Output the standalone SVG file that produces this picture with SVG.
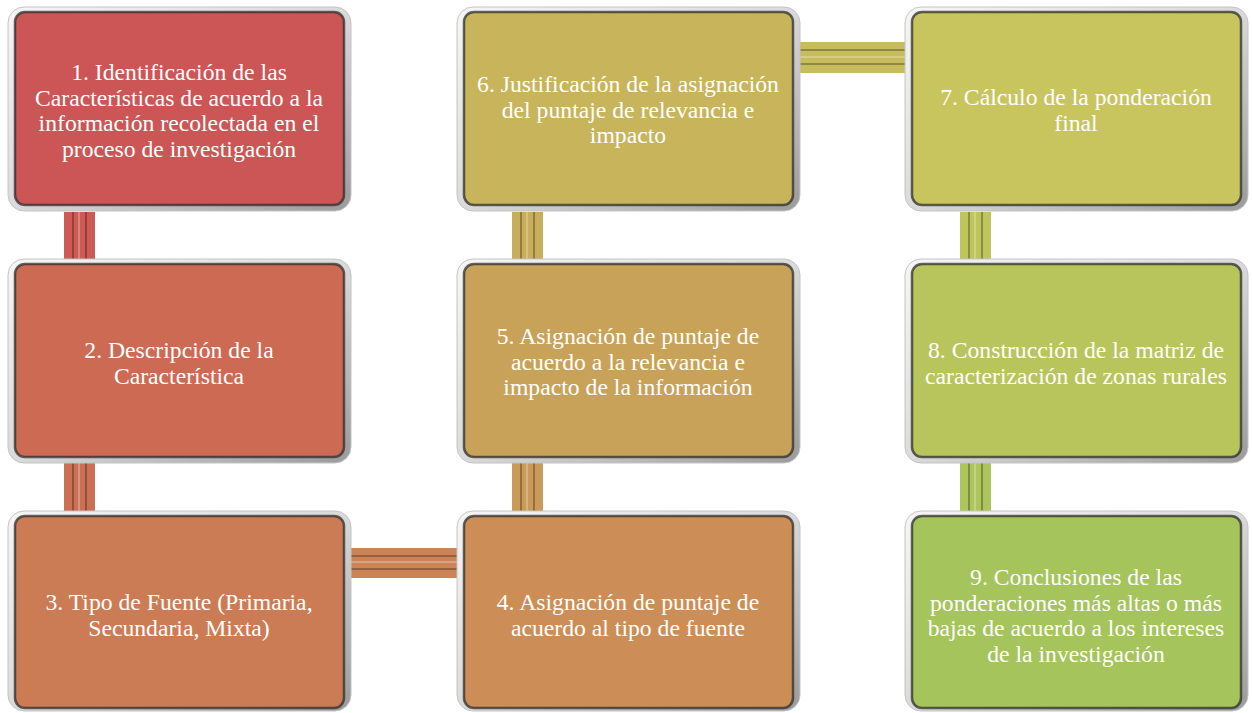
<svg xmlns="http://www.w3.org/2000/svg" width="1252" height="713" viewBox="0 0 1252 713">
<defs>
<linearGradient id="frame" x1="0" y1="0" x2="1" y2="1">
<stop offset="0" stop-color="#f6f6f6"/>
<stop offset="0.5" stop-color="#dadada"/>
<stop offset="1" stop-color="#9a9a9a"/>
</linearGradient>
</defs>
<style>
.fr{fill:url(#frame);stroke:#c4c4c4;stroke-width:1}
.in{stroke:#2e2e2e;stroke-width:2.5;stroke-opacity:0.75}
.t{font-family:"Liberation Serif","Times New Roman",serif;font-size:23.7px;fill:#ffffff;text-anchor:middle}
.dk{stroke:#000;stroke-opacity:0.28;stroke-width:2}
.lt{stroke:#fff;stroke-opacity:0.25;stroke-width:2}
</style>
<g id="connectors">
<g>
<rect x="64" y="212" width="31" height="48" fill="#cd5a55"/>
<line class="dk" x1="73" y1="212" x2="73" y2="260"/><line class="dk" x1="86" y1="212" x2="86" y2="260"/>
<line class="lt" x1="79" y1="212" x2="79" y2="260"/>
</g>
<g>
<rect x="64" y="463" width="31" height="49" fill="#cc7055"/>
<line class="dk" x1="73" y1="463" x2="73" y2="512"/><line class="dk" x1="86" y1="463" x2="86" y2="512"/>
<line class="lt" x1="79" y1="463" x2="79" y2="512"/>
</g>
<g>
<rect x="350" y="548" width="110" height="30" fill="#cc8456"/>
<line class="dk" x1="350" y1="556" x2="460" y2="556"/><line class="dk" x1="350" y1="569" x2="460" y2="569"/>
<line class="lt" x1="350" y1="562" x2="460" y2="562"/>
</g>
<g>
<rect x="512" y="463" width="31" height="49" fill="#c99a58"/>
<line class="dk" x1="521" y1="463" x2="521" y2="512"/><line class="dk" x1="534" y1="463" x2="534" y2="512"/>
<line class="lt" x1="527" y1="463" x2="527" y2="512"/>
</g>
<g>
<rect x="512" y="212" width="31" height="48" fill="#c8ad5b"/>
<line class="dk" x1="521" y1="212" x2="521" y2="260"/><line class="dk" x1="534" y1="212" x2="534" y2="260"/>
<line class="lt" x1="527" y1="212" x2="527" y2="260"/>
</g>
<g>
<rect x="798" y="42" width="110" height="31" fill="#c8bd5d"/>
<line class="dk" x1="798" y1="50" x2="908" y2="50"/><line class="dk" x1="798" y1="64" x2="908" y2="64"/>
<line class="lt" x1="798" y1="57" x2="908" y2="57"/>
</g>
<g>
<rect x="960" y="212" width="31" height="48" fill="#bec55d"/>
<line class="dk" x1="969" y1="212" x2="969" y2="260"/><line class="dk" x1="982" y1="212" x2="982" y2="260"/>
<line class="lt" x1="975" y1="212" x2="975" y2="260"/>
</g>
<g>
<rect x="960" y="463" width="31" height="49" fill="#aec45c"/>
<line class="dk" x1="969" y1="463" x2="969" y2="512"/><line class="dk" x1="982" y1="463" x2="982" y2="512"/>
<line class="lt" x1="975" y1="463" x2="975" y2="512"/>
</g>
</g>
<g id="node1">
<rect class="fr" x="8" y="7" width="343" height="204" rx="16"/>
<rect class="in" x="15" y="12" width="329" height="193" rx="10" fill="#cc5555"/>
<text class="t" x="179" y="80">1. Identificación  de las</text>
<text class="t" x="179" y="106">Características de acuerdo a la</text>
<text class="t" x="179" y="131">información  recolectada en el</text>
<text class="t" x="179" y="157">proceso de investigación</text>
</g>
<g id="node2">
<rect class="fr" x="8" y="259" width="343" height="204" rx="16"/>
<rect class="in" x="15" y="264" width="329" height="193" rx="10" fill="#cc6a53"/>
<text class="t" x="179" y="358">2. Descripción de la</text>
<text class="t" x="179" y="384">Característica</text>
</g>
<g id="node3">
<rect class="fr" x="8" y="511" width="343" height="200" rx="16"/>
<rect class="in" x="15" y="516" width="329" height="192" rx="10" fill="#cc7c55"/>
<text class="t" x="179" y="610">3. Tipo de Fuente (Primaria,</text>
<text class="t" x="179" y="636">Secundaria, Mixta)</text>
</g>
<g id="node4">
<rect class="fr" x="457" y="511" width="343" height="200" rx="16"/>
<rect class="in" x="464" y="516" width="329" height="192" rx="10" fill="#cc8e56"/>
<text class="t" x="628" y="610">4. Asignación  de puntaje de</text>
<text class="t" x="628" y="636">acuerdo al tipo de fuente</text>
</g>
<g id="node5">
<rect class="fr" x="457" y="259" width="343" height="204" rx="16"/>
<rect class="in" x="464" y="264" width="329" height="193" rx="10" fill="#c9a259"/>
<text class="t" x="628" y="344">5. Asignación  de puntaje de</text>
<text class="t" x="628" y="370">acuerdo a la relevancia  e</text>
<text class="t" x="628" y="395">impacto de la  información</text>
</g>
<g id="node6">
<rect class="fr" x="457" y="7" width="343" height="204" rx="16"/>
<rect class="in" x="464" y="12" width="329" height="193" rx="10" fill="#c8b55b"/>
<text class="t" x="628" y="92">6. Justificación  de la  asignación</text>
<text class="t" x="628" y="118">del puntaje de relevancia  e</text>
<text class="t" x="628" y="143">impacto</text>
</g>
<g id="node7">
<rect class="fr" x="905" y="7" width="343" height="204" rx="16"/>
<rect class="in" x="912" y="12" width="329" height="193" rx="10" fill="#c9c55e"/>
<text class="t" x="1076" y="105">7. Cálculo de la ponderación</text>
<text class="t" x="1076" y="131">final</text>
</g>
<g id="node8">
<rect class="fr" x="905" y="259" width="343" height="204" rx="16"/>
<rect class="in" x="912" y="264" width="329" height="193" rx="10" fill="#b8c55d"/>
<text class="t" x="1076" y="358">8. Construcción de la matriz  de</text>
<text class="t" x="1076" y="384">caracterización  de zonas rurales</text>
</g>
<g id="node9">
<rect class="fr" x="905" y="511" width="343" height="200" rx="16"/>
<rect class="in" x="912" y="516" width="329" height="192" rx="10" fill="#a5c45b"/>
<text class="t" x="1076" y="585">9. Conclusiones de las</text>
<text class="t" x="1076" y="611">ponderaciones más altas  o más</text>
<text class="t" x="1076" y="636">bajas de acuerdo a los intereses</text>
<text class="t" x="1076" y="662">de la  investigación</text>
</g>
</svg>
